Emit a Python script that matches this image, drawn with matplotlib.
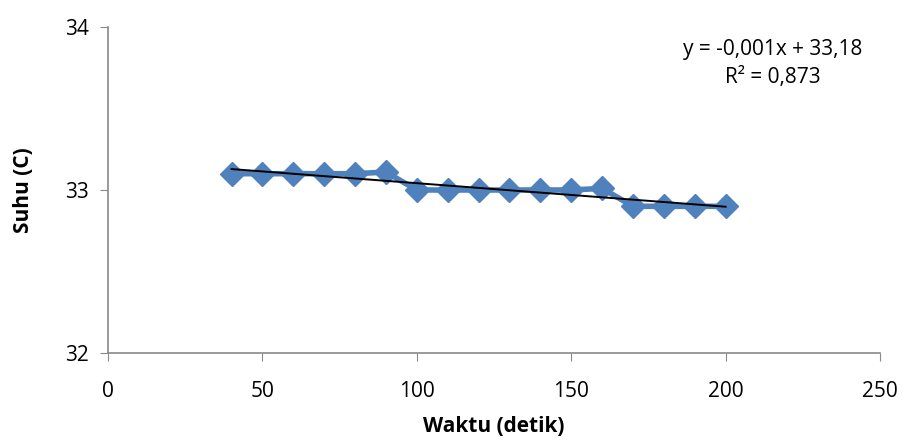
import numpy as np
import matplotlib.pyplot as plt

plt.rcParams['font.family'] = ['Open Sans', 'DejaVu Sans']

# data
waktu = [40, 50, 60, 70, 80, 90, 100, 110, 120, 130, 140, 150, 160, 170, 180, 190, 200]
suhu = [33.1, 33.1, 33.1, 33.1, 33.1, 33.11, 33.0, 33.0, 33.0, 33.0, 33.0, 33.0, 33.01,
        32.9, 32.9, 32.9, 32.9]
xticks = [0, 50, 100, 150, 200, 250]
yticks = [32, 33, 34]

fig = plt.figure(figsize=(9.04, 4.42), dpi=100)
ax = fig.add_axes([108/904, 1 - 353/442, (880-108)/904, (353-27)/442])

ax.plot(waktu, suhu, color='#4F81BD', lw=4, marker='D', ms=12,
        mec='#4F81BD', mfc='#4F81BD', zorder=2)

# trendline (linear)
k, b = np.polyfit(waktu, suhu, 1)
xt = np.array([min(waktu), max(waktu)])
ax.plot(xt, k*xt + b, color='black', lw=1.4, zorder=3)

ax.set_xlim(0, 250)
ax.set_ylim(32, 34)
ax.set_xticks(xticks)
ax.set_yticks(yticks)
ax.tick_params(direction='out', length=6, color='#898989', labelsize=15, pad=8)
ax.tick_params(axis='x', pad=14)
for s in ['top', 'right']:
    ax.spines[s].set_visible(False)
for s in ['left', 'bottom']:
    ax.spines[s].set_color('#898989')
    ax.spines[s].set_linewidth(1.2)

ax.set_xlabel('Waktu (detik)', fontsize=15, fontweight='bold', labelpad=10)
ax.set_ylabel('Suhu (C)', fontsize=15, fontweight='bold', labelpad=22)

fig.text(773/904, 1 - 50/442, 'y = -0,001x + 33,18', fontsize=15, ha='center', va='center')
fig.text(773/904, 1 - 78/442, 'R² = 0,873', fontsize=15, ha='center', va='center')

fig.savefig('out.png', dpi=100)
